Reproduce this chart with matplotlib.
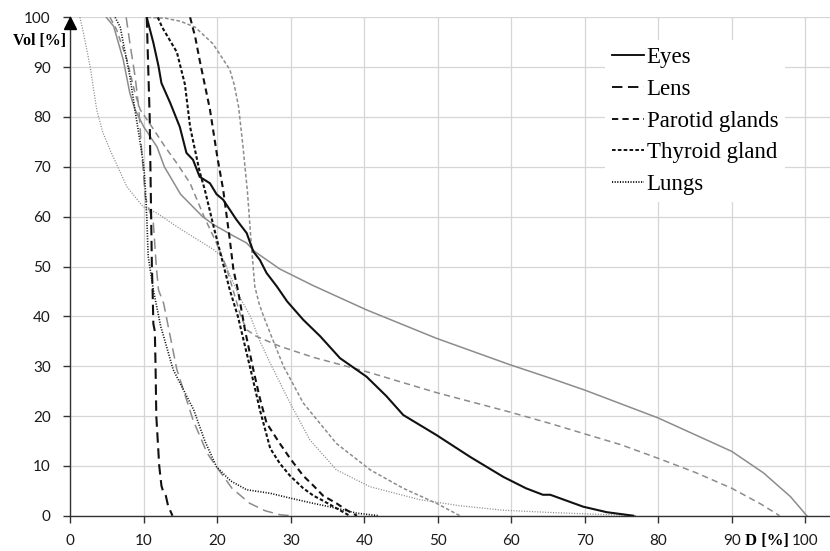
import matplotlib
matplotlib.use("Agg")
import matplotlib.pyplot as plt
from matplotlib.lines import Line2D
from matplotlib.transforms import ScaledTranslation

plt.rcParams['lines.scale_dashes'] = False

# ---------------- data (dose %, volume %) ----------------
eyes_a_dose = [10.4, 11.3, 12.0, 12.4, 13.6, 14.9, 15.8, 16.7, 17.6, 19.0, 19.9, 20.8, 21.7, 22.6,
               24.0, 24.9, 25.8, 26.7, 28.1, 29.5, 31.7, 34.0, 36.7, 40.3, 43.0, 45.3, 49.8, 54.4,
               58.9, 62.0, 64.3, 65.3, 69.8, 73.0, 76.6]
eyes_a_vol = [100, 94.9, 90.2, 86.8, 82.8, 78, 72.8, 71.4, 68, 66.7, 64.5, 63.4, 61.4, 59.4,
              56.7, 53, 51.3, 48.7, 46, 43, 39.3, 36, 31.6, 27.9, 24, 20.2, 16.2, 11.8,
              7.8, 5.5, 4.2, 4.2, 1.8, 0.7, 0]

eyes_b_dose = [4.9, 5.9, 7.2, 8.1, 8.8, 10.0, 11.8, 12.8, 15.0, 18.0, 19.5, 22.0, 24.0, 25.1, 28.5,
               33.0, 40.3, 49.8, 59.8, 65.3, 70.0, 80.0, 90.0, 94.3, 98.0, 100.2]
eyes_b_vol = [100, 98.2, 91.5, 84.8, 81.5, 78, 74, 70, 64.5, 60, 58.4, 56.3, 54.7, 53, 49.5,
              46.2, 41.3, 35.6, 30.3, 27.6, 25.2, 19.6, 12.9, 8.6, 3.8, 0]

lens_a_dose = [10.4, 10.6, 10.8, 11.0, 11.1, 11.2, 11.3, 11.5, 11.6, 11.7, 12.1, 12.4, 12.6, 13.0, 13.3, 13.9]
lens_a_vol = [100, 90, 80, 60, 50, 45, 38.5, 37, 30, 20, 10, 6, 5, 4, 2, 0]

lens_b_dose = [7.6, 8.1, 8.8, 9.3, 9.7, 10.2, 11.3, 11.7, 12.0, 12.7, 14.5, 16.7, 18.6, 19.9,
               22.0, 24.4, 26.5, 28.5, 30.0]
lens_b_vol = [100, 94.9, 88.3, 82.1, 73.4, 64, 58.7, 50, 45.3, 42.6, 29.3, 19.2, 12.6, 9.8,
              5.5, 2.5, 1.0, 0.2, 0]

parotid_a_dose = [16.3, 17.0, 17.6, 19.0, 20.0, 20.8, 21.7, 22.2, 22.8, 23.8, 24.9, 25.8, 26.7,
                  28.5, 29.9, 31.7, 33.1, 34.4, 36.2, 37.5, 39.0]
parotid_a_vol = [100, 96, 91.4, 81.5, 72, 65.4, 55.4, 49.3, 45.3, 37, 29.3, 23.5, 18.6,
                 14.5, 11.5, 8.0, 6.0, 4.0, 2.5, 1.2, 0]

parotid_b_dose = [5.4, 6.3, 7.7, 8.8, 9.5, 11.2, 12.9, 14.6, 16.3, 18.2, 19.8, 21.2, 22.2, 23.2,
                  24.0, 25.3, 28.5, 33.0, 40.3, 49.8, 59.8, 65.3, 69.8, 75.0, 80.0, 85.0, 90.0,
                  94.0, 96.5]
parotid_b_vol = [100, 97.5, 91.5, 84.8, 81.5, 77.8, 74, 70.5, 66.7, 60, 55, 50, 45, 40,
                 37.3, 36, 34, 31.8, 28.9, 24.7, 20.8, 18.5, 16.5, 14.2, 11.5, 8.7, 5.5,
                 2.3, 0]

thyroid_a_dose = [11.9, 12.5, 13.3, 14.5, 15.6, 16.3, 17.6, 18.3, 19.5, 20.8, 21.7, 22.8, 24.0,
                  24.9, 25.8, 27.2, 28.5, 29.9, 31.7, 33.1, 34.4, 36.2, 38.0]
thyroid_a_vol = [100, 98, 96, 93, 86.5, 78, 69, 65.4, 58, 50.5, 45.3, 40, 32.6,
                 27, 21.2, 13.5, 10.5, 8.0, 5.5, 4.0, 3.0, 1.5, 0]

thyroid_b_dose = [10.5, 13.0, 15.0, 17.0, 19.4, 20.6, 21.7, 22.3, 22.9, 23.5, 24.1, 24.6, 25.1,
                  25.7, 26.3, 27.2, 29.0, 31.7, 36.2, 40.8, 45.3, 49.8, 53.0]
thyroid_b_vol = [100, 99.8, 99.2, 98, 94.7, 92, 89.5, 86.5, 82, 74, 65, 55, 46,
                 42.5, 40, 36.6, 30, 22.6, 14.5, 9.2, 5.5, 2.5, 0]

lungs_a_dose = [6.1, 6.8, 7.2, 8.1, 8.8, 9.6, 10.0, 10.2, 10.4, 10.6, 11.3, 12.3, 14.0, 16.8,
                18.3, 19.9, 21.8, 24.0, 27.2, 30.0, 33.0, 36.2, 39.0, 42.0]
lungs_a_vol = [100, 98, 94.9, 88.2, 81.4, 74, 70, 66, 60, 52, 45.3, 38, 29.3, 21.2,
               15, 9.8, 7, 5.2, 4.5, 3.5, 2.5, 1.5, 0.5, 0]

lungs_b_dose = [1.3, 1.8, 2.7, 3.6, 4.4, 5.4, 7.7, 9.9, 11.8, 15.0, 19.5, 20.6, 21.8, 23.0,
                24.5, 25.8, 27.2, 29.9, 32.6, 36.2, 40.8, 47.6, 53.0, 58.9, 66.0, 77.0]
lungs_b_vol = [100, 96.8, 90.1, 81.4, 77, 73.4, 66, 62, 60.7, 57.5, 53.4, 52, 48, 44,
               40, 35, 30.6, 22.6, 15.2, 9.2, 5.8, 3.2, 2.0, 1.1, 0.6, 0]

structures = ["Eyes", "Lens", "Parotid glands", "Thyroid gland", "Lungs"]
x_ticks = list(range(0, 101, 10))
y_ticks = list(range(0, 101, 10))

# ---------------- styles ----------------
styles = {
    "Eyes": "-",
    "Lens": (0, (7.5, 4.0)),
    "Parotid glands": (0, (4.5, 3.0)),
    "Thyroid gland": (0, (2.6, 1.6)),
    "Lungs": (0, (0.8, 1.1)),
}
BLACK = "#111111"
GRAY = "#8c8c8c"

fig = plt.figure(figsize=(8.3, 5.51), dpi=100)
ax = fig.add_axes([70.3 / 830, 1 - 515.7 / 551, 1 - 70.3 / 830, (515.7 - 17.3) / 551])

series = [
    ("Eyes", eyes_b_dose, eyes_b_vol, GRAY),
    ("Lens", lens_b_dose, lens_b_vol, GRAY),
    ("Parotid glands", parotid_b_dose, parotid_b_vol, GRAY),
    ("Thyroid gland", thyroid_b_dose, thyroid_b_vol, GRAY),
    ("Lungs", lungs_b_dose, lungs_b_vol, GRAY),
    ("Eyes", eyes_a_dose, eyes_a_vol, BLACK),
    ("Lens", lens_a_dose, lens_a_vol, BLACK),
    ("Parotid glands", parotid_a_dose, parotid_a_vol, BLACK),
    ("Thyroid gland", thyroid_a_dose, thyroid_a_vol, BLACK),
    ("Lungs", lungs_a_dose, lungs_a_vol, BLACK),
]
for name, d, v, c in series:
    lw = 1.5 if c == BLACK else 1.1
    if name == "Lungs":
        lw = 1.2 if c == BLACK else 0.9
    ax.plot(d, v, color=c, lw=lw, linestyle=styles[name], zorder=3 if c == BLACK else 2)

ax.set_xlim(0, (830 - 70.3) / 7.35)
ax.set_ylim(0, 100)
ax.set_xticks(x_ticks)
ax.set_yticks(y_ticks)
ax.grid(True, color="#d6d6d6", lw=0.9, zorder=0)
ax.set_axisbelow(True)
for s in ["top", "right"]:
    ax.spines[s].set_visible(False)
for s in ["left", "bottom"]:
    ax.spines[s].set_color("#333333")
    ax.spines[s].set_linewidth(1.0)
ax.tick_params(axis="both", direction="out", length=5, width=1.0, color="#333333",
               labelsize=11, labelcolor="#1a1a1a")
ax.tick_params(axis="y", pad=9)
ax.tick_params(axis="x", pad=8)
for lab in ax.get_xticklabels() + ax.get_yticklabels():
    lab.set_fontfamily("Lato")

# arrow on y axis
trans = ax.transAxes + ScaledTranslation(0, -6 / 100, fig.dpi_scale_trans)
ax.plot([0], [1], marker="^", ms=9, color="black", transform=trans, clip_on=False, zorder=5)

fig.text(40 / 830, 1 - 41 / 551, "Vol [%]", ha="center", va="center",
         family="Liberation Serif", fontweight="bold", fontsize=11.5)
fig.text(745 / 830, 1 - 541 / 551, "D [%]", ha="left", va="center",
         family="Liberation Serif", fontweight="bold", fontsize=12)

handles = [Line2D([0], [0], color="black", lw=1.3, linestyle=styles[n]) for n in structures]
leg = ax.legend(handles, structures, loc="upper left",
                bbox_to_anchor=(605 / 830, 1 - 40 / 551), bbox_transform=fig.transFigure,
                prop={"family": "Liberation Serif", "size": 16.5},
                frameon=True, fancybox=False, framealpha=1, facecolor="white",
                edgecolor="none", borderpad=0.3, borderaxespad=0,
                handlelength=1.4, handletextpad=0.12, labelspacing=0.47)
leg.set_zorder(10)

fig.savefig("out.png", dpi=100)
